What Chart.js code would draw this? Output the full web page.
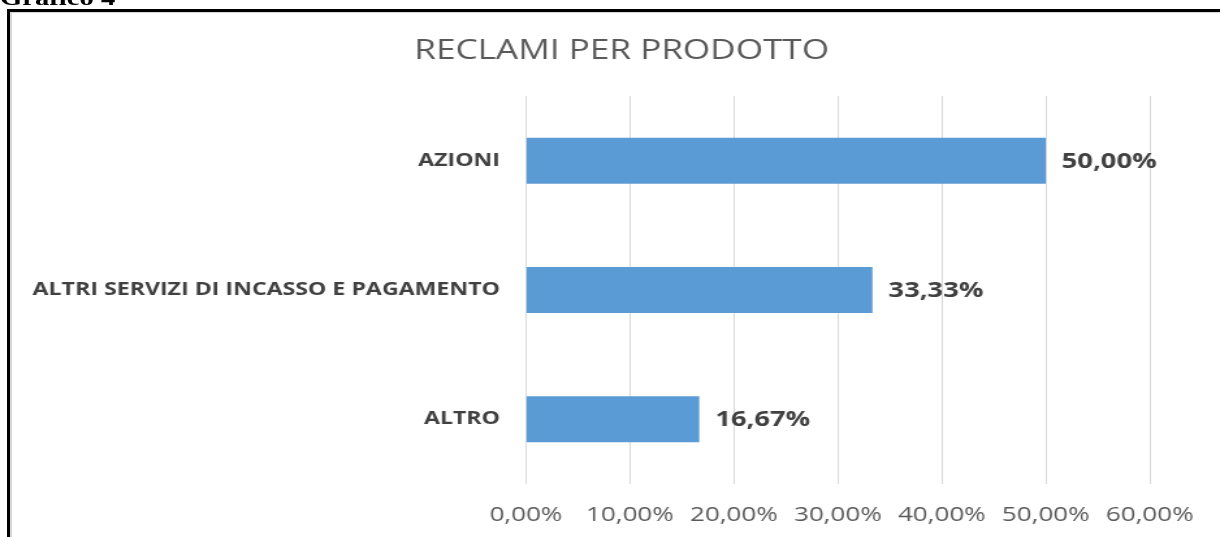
<!DOCTYPE html>
<html lang="it">
<head>
  <meta charset="UTF-8">
  <title>Reclami per prodotto</title>
  <script src="https://cdn.jsdelivr.net/npm/chart.js"></script>
  <style>
    body {
      margin: 0;
      width: 1220px;
      height: 537px;
      overflow: hidden;
      background: #ffffff;
      position: relative;
    }

    .frame {
      position: absolute;
      left: 7px;
      top: 9px;
      width: 1300px;
      height: 600px;
      border-top: 3px solid #000000;
      border-left: 3px solid #000000;
      box-shadow: inset 2px 1px 0 #d6d6d6;
    }

    /* the original picture is stretched sideways, so is this */
    .stretch {
      position: absolute;
      left: 0;
      top: 0;
      width: 938px;
      height: 537px;
      transform: scaleX(1.3006);
      transform-origin: left top;
    }

    .caption {
      position: absolute;
      left: 0;
      top: -13px;
      font-family: 'Liberation Serif', serif;
      font-weight: bold;
      font-size: 22px;
      line-height: 22px;
      color: #000000;
    }

    .chart-box {
      position: absolute;
      left: 0;
      top: 0;
      width: 938px;
      height: 537px;
    }
  </style>
</head>
<body>

  <div class="frame"></div>
  <div class="stretch">
    <div class="caption">Grafico 4</div>
    <div class="chart-box">
      <canvas id="reclamiChart"></canvas>
    </div>
  </div>

  <script>
    const chartTitle = 'RECLAMI PER PRODOTTO';
    const categories = ['AZIONI', 'ALTRI SERVIZI DI INCASSO E PAGAMENTO', 'ALTRO'];
    const values = [50.00, 33.33, 16.67];
    const xMin = 0;
    const xMax = 60;
    const xStep = 10;

    const fmt = (v) => v.toFixed(2).replace('.', ',') + '%';

    // title is drawn by hand: the built-in one is centred on the whole canvas,
    // the original sits a bit to the right of that
    const titleText = {
      id: 'titleText',
      afterDraw(chart) {
        const ctx = chart.ctx;
        ctx.save();
        ctx.font = '27px "Open Sans"';
        ctx.fillStyle = '#595959';
        ctx.textAlign = 'center';
        ctx.textBaseline = 'alphabetic';
        ctx.fillText(chartTitle, 478, 59);
        ctx.restore();
      }
    };

    const valueLabels = {
      id: 'valueLabels',
      afterDatasetsDraw(chart) {
        const ctx = chart.ctx;
        const meta = chart.getDatasetMeta(0);
        ctx.save();
        ctx.font = 'bold 21px "Open Sans"';
        ctx.fillStyle = '#404040';
        ctx.textAlign = 'left';
        ctx.textBaseline = 'middle';
        meta.data.forEach((bar, i) => {
          ctx.fillText(fmt(values[i]), bar.x + 12.3, bar.y + 1);
        });
        ctx.restore();
      }
    };

    new Chart(document.getElementById('reclamiChart'), {
      type: 'bar',
      data: {
        labels: categories,
        datasets: [{
          data: values,
          backgroundColor: '#5b9bd5',
          categoryPercentage: 1,
          barPercentage: 0.356
        }]
      },
      options: {
        indexAxis: 'y',
        responsive: true,
        maintainAspectRatio: false,
        animation: false,
        layout: {
          padding: { left: 20, right: 54, top: 96, bottom: 0 }
        },
        plugins: {
          legend: { display: false },
          tooltip: { enabled: false },
          title: { display: false }
        },
        scales: {
          x: {
            min: xMin,
            max: xMax,
            afterFit(scale) { scale.height = 53; },
            ticks: {
              stepSize: xStep,
              color: '#595959',
              font: { family: 'Open Sans', size: 20 },
              padding: 19.5,
              maxRotation: 0,
              callback: (v) => fmt(v)
            },
            grid: { color: '#d9d9d9', drawTicks: false },
            border: { display: false }
          },
          y: {
            afterFit(scale) { scale.width = 384.4; },
            ticks: {
              color: '#404040',
              font: { family: 'Open Sans', size: 17.8, weight: 'bold' },
              padding: 20
            },
            grid: { display: false, drawTicks: false },
            border: { display: false }
          }
        }
      },
      plugins: [titleText, valueLabels]
    });
  </script>

</body>
</html>
